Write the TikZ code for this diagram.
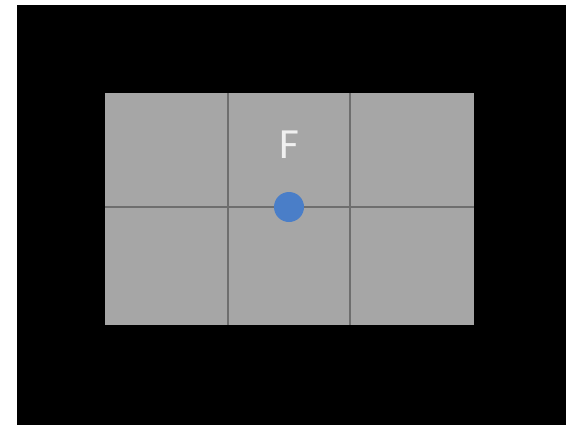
\documentclass[tikz,border=0pt]{standalone}
\usepackage{fontspec}
\setmainfont{Carlito}
\definecolor{panel}{HTML}{A6A6A6}
\definecolor{gridc}{HTML}{6E6E6E}
\definecolor{dotc}{HTML}{4A7EC8}
\begin{document}
\begin{tikzpicture}[x=1pt,y=-1pt,
  gridline/.style={draw=gridc,line width=1.6pt},
  marker/.style={circle,fill=dotc,inner sep=0pt,minimum size=30pt}]
\useasboundingbox (0,0) rectangle (568,429);
\fill[white] (0,0) rectangle (568,429);
\fill[black] (17,5) rectangle (566,425);
\fill[panel] (105,93) rectangle (474,325);
\coordinate (v1t) at (228,93); \coordinate (v1b) at (228,325);
\coordinate (v2t) at (350,93); \coordinate (v2b) at (350,325);
\coordinate (hl) at (105,207); \coordinate (hr) at (474,207);
\draw[gridline] (v1t) -- (v1b);
\draw[gridline] (v2t) -- (v2b);
\draw[gridline] (hl) -- (hr);
\node[text=white!94!black,font=\fontsize{43}{43}\selectfont,inner sep=0pt] (F) at (289,145) {F};
\node[marker] (dot) at (289,207) {};
\end{tikzpicture}
\end{document}
